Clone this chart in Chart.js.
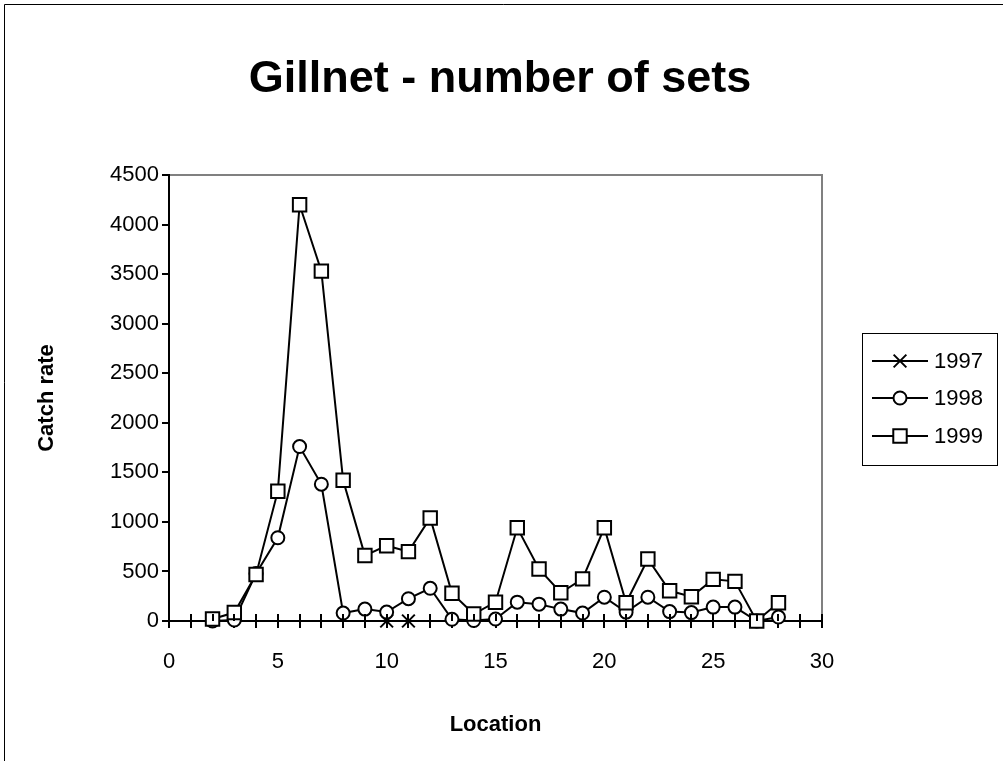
<!DOCTYPE html>
<html>
<head>
<meta charset="utf-8">
<title>Gillnet - number of sets</title>
<script src="https://cdn.jsdelivr.net/npm/chart.js@4.4.1/dist/chart.umd.min.js"></script>
<style>
  body { margin: 0; background: #fff; }
  canvas { display: block; }
</style>
</head>
<body>
<canvas id="gillnetChart" width="1003" height="761"></canvas>
<script>
// Catch rate per location, one array per year
const locations = [2, 3, 4, 5, 6, 7, 8, 9, 10, 11, 12, 13, 14, 15, 16, 17, 18, 19, 20, 21, 22, 23, 24, 25, 26, 27, 28];
const locations1997 = [10, 11];
const catch1997 = [0, 0];
const catch1998 = [0, 10, 480, 840, 1760, 1380, 80, 120, 90, 225, 330, 17, 5, 20, 190, 170, 120, 80, 240, 90, 240, 95, 85, 140, 140, 0, 40];
const catch1999 = [20, 85, 470, 1310, 4200, 3530, 1420, 660, 760, 700, 1040, 280, 70, 190, 940, 525, 285, 425, 940, 185, 625, 305, 245, 420, 400, 0, 185];
const xTickLabels = [0, 5, 10, 15, 20, 25, 30];

const FONT = "'Liberation Sans', Arial, sans-serif";
const FONT_SIZE = 22;

function toPoints(xs, ys) {
  return xs.map((x, i) => ({ x: x, y: ys[i] }));
}

function seriesStyle(label, data, pointStyle, radius, order) {
  return {
    label: label,
    data: data,
    order: order,
    borderColor: "#000",
    borderWidth: 2,
    backgroundColor: "#fff",
    pointStyle: pointStyle,
    pointRadius: radius,
    pointHoverRadius: radius,
    pointBorderColor: "#000",
    pointBackgroundColor: "#fff",
    pointBorderWidth: 2,
    tension: 0,
    clip: false,
  };
}

// white page, frame edges, title, plot frame and crossing x ticks
const decorations = {
  id: "decorations",
  beforeDraw(chart) {
    const ctx = chart.ctx;
    ctx.save();
    ctx.fillStyle = "#fff";
    ctx.fillRect(0, 0, chart.width, chart.height);
    ctx.strokeStyle = "#000";
    ctx.lineWidth = 1;
    ctx.beginPath();
    ctx.moveTo(4.5, chart.height);
    ctx.lineTo(4.5, 4.5);
    ctx.lineTo(chart.width, 4.5);
    ctx.stroke();
    ctx.fillStyle = "#000";
    ctx.font = "bold 45px " + FONT;
    ctx.textAlign = "center";
    ctx.textBaseline = "middle";
    ctx.fillText("Gillnet - number of sets", 500, 80);
    const a = chart.chartArea;
    ctx.strokeStyle = "#808080";
    ctx.lineWidth = 2;
    ctx.beginPath();
    ctx.moveTo(a.left, a.top);
    ctx.lineTo(a.right, a.top);
    ctx.lineTo(a.right, a.bottom);
    ctx.stroke();
    ctx.restore();
  },
  afterDatasetsDraw(chart) {
    const ctx = chart.ctx;
    const x = chart.scales.x;
    const a = chart.chartArea;
    ctx.save();
    ctx.strokeStyle = "#000";
    ctx.lineWidth = 2;
    ctx.beginPath();
    x.ticks.forEach((t) => {
      const px = Math.round(x.getPixelForValue(t.value));
      ctx.moveTo(px, a.bottom - 7);
      ctx.lineTo(px, a.bottom);
    });
    ctx.stroke();
    ctx.restore();
  },
};

// legend box on the right: line, marker, year
const sideLegend = {
  id: "sideLegend",
  afterDraw(chart) {
    const ctx = chart.ctx;
    const box = { left: 862, top: 333, right: 997, bottom: 465 };
    ctx.save();
    ctx.strokeStyle = "#000";
    ctx.lineWidth = 1;
    ctx.strokeRect(box.left + 0.5, box.top + 0.5, box.right - box.left, box.bottom - box.top);
    const rows = [361, 398, 436];
    const items = chart.data.datasets.slice().sort((p, q) => p.label.localeCompare(q.label));
    items.forEach((ds, i) => {
      const y = rows[i];
      ctx.strokeStyle = "#000";
      ctx.lineWidth = 2;
      ctx.beginPath();
      ctx.moveTo(872, y);
      ctx.lineTo(928, y);
      ctx.stroke();
      ctx.fillStyle = "#fff";
      Chart.helpers.drawPoint(ctx, {
        pointStyle: ds.pointStyle,
        radius: ds.pointRadius,
        borderWidth: 2,
        rotation: 0,
      }, 900, y);
      ctx.fillStyle = "#000";
      ctx.font = FONT_SIZE + "px " + FONT;
      ctx.textAlign = "left";
      ctx.textBaseline = "middle";
      ctx.fillText(ds.label, 934, y + 1);
    });
    ctx.restore();
  },
};

const ctx = document.getElementById("gillnetChart").getContext("2d");
const gillnetChart = new Chart(ctx, {
  type: "line",
  data: {
    datasets: [
      seriesStyle("1999", toPoints(locations, catch1999), "rect", 9.5, 1),
      seriesStyle("1998", toPoints(locations, catch1998), "circle", 6.5, 2),
      seriesStyle("1997", toPoints(locations1997, catch1997), "crossRot", 9, 3),
    ],
  },
  options: {
    responsive: false,
    animation: false,
    events: [],
    layout: { padding: { top: 175, left: 0, right: 181, bottom: 0 } },
    plugins: {
      legend: { display: false },
      tooltip: { enabled: false },
      title: { display: false },
    },
    scales: {
      x: {
        type: "linear",
        min: 0,
        max: 30,
        afterFit(scale) {
          scale.height = 140;
        },
        border: { color: "#000", width: 2 },
        grid: {
          drawOnChartArea: false,
          drawTicks: true,
          tickLength: 7,
          color: "#000",
          lineWidth: 2,
        },
        ticks: {
          stepSize: 1,
          autoSkip: false,
          maxRotation: 0,
          padding: 21,
          color: "#000",
          font: { family: FONT, size: FONT_SIZE },
          callback: (v) => (xTickLabels.includes(v) ? String(v) : ""),
        },
        title: {
          display: true,
          text: "Location",
          color: "#000",
          font: { family: FONT, size: FONT_SIZE, weight: "bold" },
          padding: { top: 0, bottom: 23 },
        },
      },
      y: {
        min: 0,
        max: 4500,
        afterFit(scale) {
          scale.width = 169;
        },
        border: { color: "#000", width: 2 },
        grid: {
          drawOnChartArea: false,
          drawTicks: true,
          tickLength: 7,
          color: "#000",
          lineWidth: 2,
        },
        ticks: {
          stepSize: 500,
          padding: 3,
          color: "#000",
          font: { family: FONT, size: FONT_SIZE },
          callback: (v) => String(v),
        },
        title: {
          display: true,
          text: "Catch rate",
          color: "#000",
          font: { family: FONT, size: FONT_SIZE, weight: "bold" },
          padding: { top: 34, bottom: 0 },
        },
      },
    },
  },
  plugins: [decorations, sideLegend],
});
</script>
</body>
</html>
